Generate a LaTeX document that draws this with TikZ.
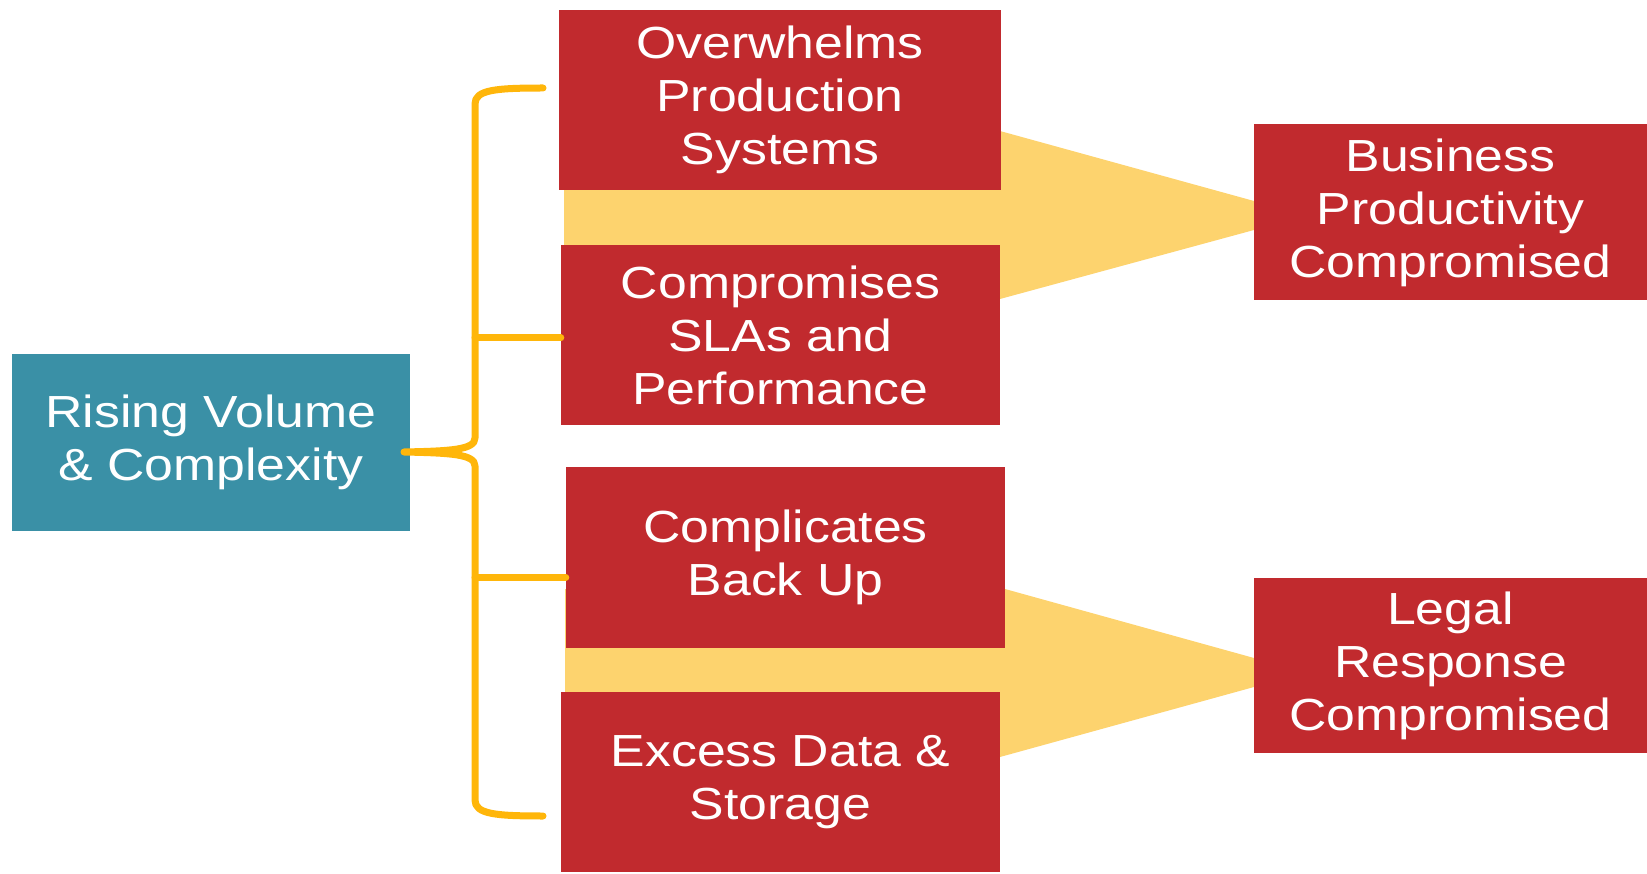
\documentclass[tikz,border=0pt]{standalone}
\usepackage{fontspec}
\setmainfont[FakeStretch=1.15]{Liberation Sans}
\definecolor{boxred}{RGB}{193,42,46}
\definecolor{boxteal}{RGB}{58,144,166}
\definecolor{funnelyellow}{RGB}{253,211,110}
\definecolor{bracegold}{RGB}{255,182,10}
\begin{document}
\begin{tikzpicture}[
    x=1pt, y=-1pt,
    box/.style={rectangle, inner sep=0pt, align=center, text=white,
      font=\fontsize{45}{53}\selectfont},
    redbox/.style={box, fill=boxred, minimum width=439pt, minimum height=180pt},
    tealbox/.style={box, fill=boxteal, minimum width=398pt, minimum height=177pt},
    endbox/.style={box, fill=boxred, minimum width=393pt, minimum height=176pt},
    funnel/.style={fill=funnelyellow},
    brace/.style={draw=bracegold, line width=7pt, line cap=round, line join=round}
    ]
	\useasboundingbox (0,0) rectangle (1647,874);
	% yellow funnels behind the boxes
	\fill[funnel] (564,131) -- (1000,131) -- (1254,201) -- (1254,230)
		-- (1000,299) -- (564,299) -- cycle;
	\fill[funnel] (565,589) -- (1005,589) -- (1254,658) -- (1254,687)
		-- (1000,757) -- (565,757) -- cycle;
	% boxes
	\node [tealbox] (rising) at (211,442.5) {Rising Volume\\\& Complexity};
	\node [redbox, minimum width=442pt] (prod) at (780,100) {Overwhelms\\Production\\Systems};
	\node [redbox] (sla) at (780.5,335) {Compromises\\SLAs and\\Performance};
	\node [redbox, minimum height=181pt] (backup) at (785.5,557.5) {Complicates\\Back Up};
	\node [redbox] (excess) at (780.5,782) {Excess Data \&\\Storage};
	\node [endbox] (biz) at (1450.5,212.5) {Business\\Productivity\\Compromised};
	\node [endbox, minimum height=175pt] (legal) at (1450.5,665.5) {Legal\\Response\\Compromised};
	% brace
	\coordinate (cusp) at (404,452);
	\coordinate (spine) at (475,452);
	\coordinate (topend) at (543,88);
	\coordinate (botend) at (543,816);
	\draw[brace] (topend) .. controls (495,88) and (475,90) .. (475,104)
		-- (475,438) .. controls (475,450) and (450,451) .. (cusp)
		.. controls (450,453) and (475,454) .. (475,466)
		-- (475,800) .. controls (475,814) and (495,816) .. (botend);
	\draw[brace] (spine |- sla.west) ++(0,3) -- ([yshift=-3pt]sla.west);
	\draw[brace] (spine |- backup.west) ++(0,20) -- ([yshift=-20pt]backup.west);
\end{tikzpicture}
\end{document}
